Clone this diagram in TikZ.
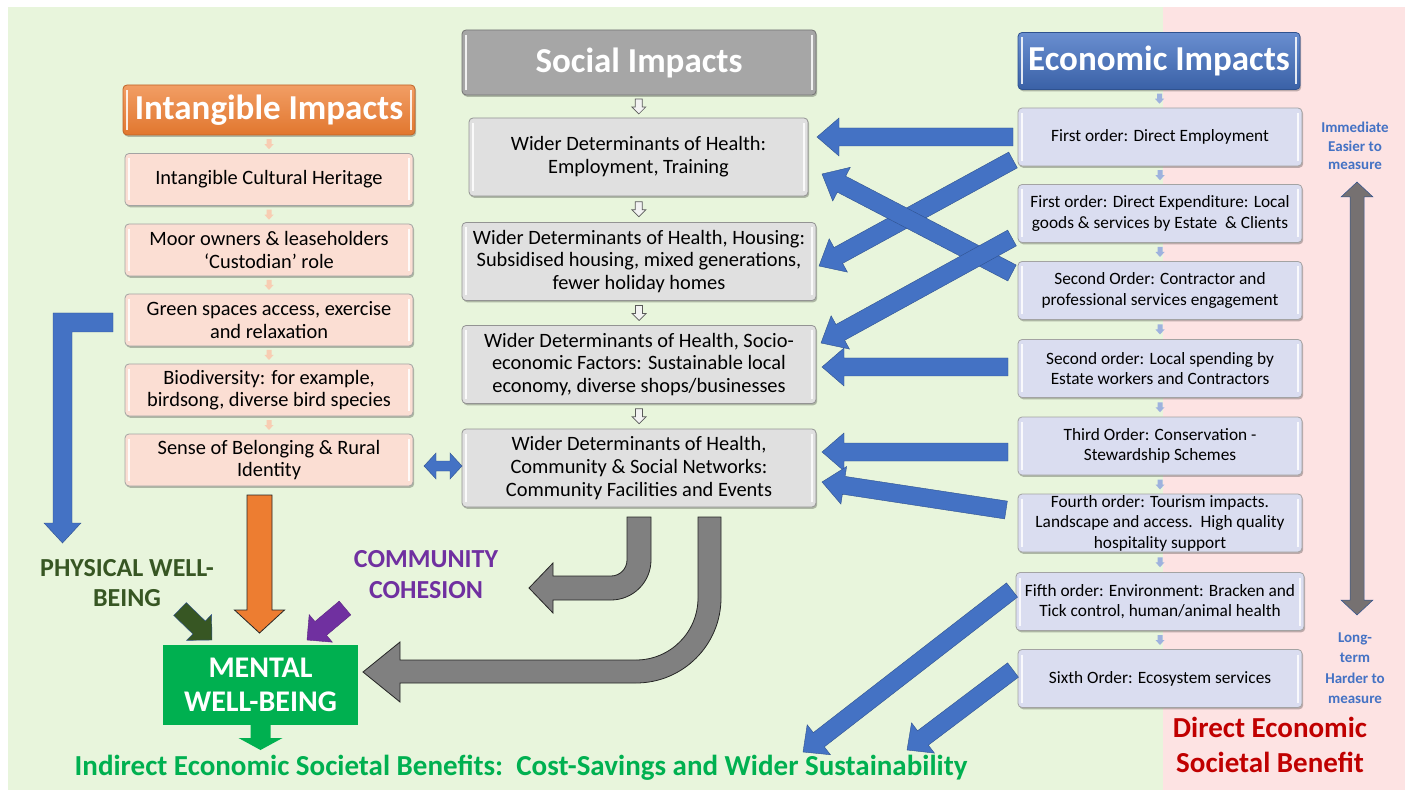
\documentclass[tikz,border=0pt]{standalone}
\usepackage{fontspec}
\setmainfont{Carlito}
\usetikzlibrary{calc,shadows}

\definecolor{bggreen}{HTML}{E8F5DC}
\definecolor{bgpink}{HTML}{FDE3E3}
\definecolor{arrblue}{HTML}{4472C4}
\definecolor{arrblueedge}{HTML}{2F528F}
\definecolor{pinkbox}{HTML}{FBDED3}
\definecolor{greybox}{HTML}{E0E0E0}
\definecolor{lavbox}{HTML}{DADDF0}
\definecolor{boxedge}{HTML}{A3A3A3}
\definecolor{mentalgreen}{HTML}{00B050}
\definecolor{darkgreen}{HTML}{375623}
\definecolor{purp}{HTML}{7030A0}
\definecolor{redtxt}{HTML}{C00000}
\definecolor{greyarrow}{HTML}{808080}
\definecolor{hdrgrey}{HTML}{A6A6A6}
\definecolor{orng}{HTML}{ED7D31}
\definecolor{scalegrey}{HTML}{767171}

% block arrow: [style]{tail}{tip}{half shaft}{half head}{head length}
\newcommand\blockarrow[6][]{%
  \coordinate (ba-a) at (#2);
  \coordinate (ba-b) at (#3);
  \coordinate (ba-h) at ($(ba-b)!#6!(ba-a)$);
  \filldraw[#1] ($(ba-a)!#4!90:(ba-b)$) -- ($(ba-h)!#4!90:(ba-b)$)
    -- ($(ba-h)!#5!90:(ba-b)$) -- (ba-b) -- ($(ba-h)!#5!-90:(ba-b)$)
    -- ($(ba-h)!#4!-90:(ba-b)$) -- ($(ba-a)!#4!-90:(ba-b)$) -- cycle;}

\tikzset{
  every node/.style={inner sep=0pt, outer sep=0pt},
  bevel/.style={path picture={
    \draw[white,opacity=.85,line width=2.2pt]
      ([shift={(4pt,-5pt)}]path picture bounding box.north west) --
      ([shift={(4pt,5pt)}]path picture bounding box.south west);
    \draw[white,opacity=.85,line width=2.2pt]
      ([shift={(-4pt,-5pt)}]path picture bounding box.north east) --
      ([shift={(-4pt,5pt)}]path picture bounding box.south east);}},
  softshadow/.style={drop shadow={shadow xshift=1.2pt,shadow yshift=-1.8pt,fill=black,opacity=.25}},
  basebox/.style={rounded corners=4pt, line width=0.8pt, align=center, bevel, softshadow},
  ibox/.style={basebox, draw=boxedge, fill=pinkbox, minimum width=288pt, minimum height=52pt,
    font=\fontsize{20.4}{22.5}\selectfont},
  sbox/.style={basebox, draw=boxedge!90!black, fill=greybox, minimum width=354pt, minimum height=78pt,
    font=\fontsize{20.4}{22.8}\selectfont},
  ebox/.style={basebox, draw=boxedge, fill=lavbox, minimum width=284pt, minimum height=58pt,
    font=\fontsize{17.3}{20.5}\selectfont},
  ihead/.style={basebox, draw=orng!80!black, top color=orng!75!white, bottom color=orng!95!black,
    minimum width=292pt, minimum height=50pt, text=white, font=\bfseries\fontsize{35}{38}\selectfont},
  shead/.style={basebox, draw=black!55, fill=hdrgrey, minimum width=354pt, minimum height=65pt,
    text=white, font=\bfseries\fontsize{35}{38}\selectfont},
  ehead/.style={basebox, draw=arrblueedge, top color=arrblue!80!white, bottom color=arrblue!85!black,
    minimum width=282pt, minimum height=57pt, text=white, font=\bfseries\fontsize{35}{38}\selectfont},
  bluearrow/.style={fill=arrblue, draw=arrblueedge, line width=0.4pt},
  tinypink/.style={fill=pinkbox!60!orng!70!white, draw=none},
  tinygrey/.style={fill=white!95!black, draw=black!65, line width=0.7pt},
  tinyblue/.style={fill=arrblue!40!lavbox, draw=none},
  greyblock/.style={fill=greyarrow, draw=black!85, line width=0.8pt},
}

\begin{document}
\begin{tikzpicture}[x=1pt,y=-1pt]
  \useasboundingbox (0,0) rectangle (1408,791);
  % panels
  \fill[bggreen] (8,7) rectangle (1163,790);
  \fill[bgpink] (1163,7) rectangle (1405,790);

  % intangible column
  \node[ihead] (ih) at (269,110) {Intangible Impacts};
  \node[ibox] (i1) at (269,179.5) {Intangible Cultural Heritage};
  \node[ibox] (i2) at (269,250) {Moor owners \& leaseholders\\‘Custodian’ role};
  \node[ibox] (i3) at (269,320) {Green spaces access, exercise\\and relaxation};
  \node[ibox] (i4) at (269,390) {Biodiversity: for example,\\birdsong, diverse bird species};
  \node[ibox] (i5) at (269,460) {Sense of Belonging \& Rural\\Identity};

  % social column
  \node[shead] (sh) at (639,62.5) {Social Impacts};
  \node[sbox, minimum width=339pt] (s1) at (638.5,157) {Wider Determinants of Health:\\Employment, Training};
  \node[sbox] (s2) at (639,261.5) {Wider Determinants of Health, Housing:\\Subsidised housing, mixed generations,\\fewer holiday homes};
  \node[sbox] (s3) at (639,364.5) {Wider Determinants of Health, Socio-\\economic Factors: Sustainable local\\economy, diverse shops/businesses};
  \node[sbox] (s4) at (639,468) {Wider Determinants of Health,\\Community \& Social Networks:\\Community Facilities and Events};

  % economic column
  \node[ehead] (eh) at (1159,61) {Economic Impacts};
  \node[ebox] (e1) at (1160,137) {First order: Direct Employment};
  \node[ebox] (e2) at (1160,213.5) {First order: Direct Expenditure: Local\\goods \& services by Estate\ \ \& Clients};
  \node[ebox] (e3) at (1160,290.5) {Second Order: Contractor and\\professional services engagement};
  \node[ebox] (e4) at (1160,368.5) {Second order: Local spending by\\Estate workers and Contractors};
  \node[ebox] (e5) at (1160,446) {Third Order: Conservation -\\Stewardship Schemes};
  \node[ebox] (e6) at (1160,523) {Fourth order: Tourism impacts.\\Landscape and access.\ \ High quality\\hospitality support};
  \node[ebox, minimum width=288pt] (e7) at (1160,601.5) {Fifth order: Environment: Bracken and\\Tick control, human/animal health};
  \node[ebox] (e8) at (1160,678.5) {Sixth Order: Ecosystem services};

  % small step arrows inside the columns
  \foreach \a/\b in {ih/i1,i1/i2,i2/i3,i3/i4,i4/i5}{
    \coordinate (mid) at ($(\a.south)!.5!(\b.north)$);
    \blockarrow[tinypink]{$(mid)+(0,-5)$}{$(mid)+(0,5)$}{2.5pt}{4.5pt}{5pt}}
  \foreach \a/\b in {sh/s1,s1/s2,s2/s3,s3/s4}{
    \coordinate (mid) at ($(\a.south)!.5!(\b.north)$);
    \blockarrow[tinygrey]{$(mid)+(0,-7.5)$}{$(mid)+(0,7.5)$}{3.5pt}{7pt}{7pt}}
  \foreach \a/\b in {eh/e1,e1/e2,e2/e3,e3/e4,e4/e5,e5/e6,e6/e7,e7/e8}{
    \coordinate (mid) at ($(\a.south)!.5!(\b.north)$);
    \blockarrow[tinyblue]{$(mid)+(0,-5)$}{$(mid)+(0,5)$}{2.5pt}{4.5pt}{5pt}}

  % economic to social links
  \blockarrow[bluearrow]{$(e1.west)+(-5,0)$}{$(s1.east)+(9,-20)$}{9pt}{19pt}{22pt}
  \blockarrow[bluearrow]{$(e1.west)+(-5,23)$}{$(s2.east)+(3,4.5)$}{9pt}{19pt}{22pt}
  \blockarrow[bluearrow]{$(e3.west)+(-6,-17.5)$}{$(s1.east)+(14,17)$}{9pt}{19pt}{22pt}
  \blockarrow[bluearrow]{$(e2.west)+(-6,24.5)$}{$(s3.east)+(5,-21.5)$}{9pt}{19pt}{22pt}
  \blockarrow[bluearrow]{$(e4.west)+(-10,-1.5)$}{$(s3.east)+(6,2.5)$}{9pt}{19pt}{22pt}
  \blockarrow[bluearrow]{$(e5.west)+(-10,6)$}{$(s4.east)+(6,-16)$}{9pt}{19pt}{22pt}
  \blockarrow[bluearrow]{$(e6.west)+(-12,-13)$}{$(s4.east)+(6,14)$}{9pt}{19pt}{22pt}
  \coordinate (sus1) at (803,752);
  \coordinate (sus2) at (907,750);
  \blockarrow[bluearrow]{$(e7.west)+(-4,-11.5)$}{sus1}{9pt}{19pt}{20pt}
  \blockarrow[bluearrow]{$(e8.west)+(-5,-8.5)$}{sus2}{9pt}{19pt}{20pt}

  % time scale on the right
  \node[font=\bfseries\fontsize{15}{18.5}\selectfont, text=arrblue, align=center] (imm) at (1355,146) {Immediate\\Easier to\\measure};
  \node[font=\bfseries\fontsize{15}{20.5}\selectfont, text=arrblue, align=center] (ltm) at (1355,668) {Long-\\term\\Harder to\\measure};
  \coordinate (sct) at (1357,182);
  \coordinate (scb) at (1357,615);
  \filldraw[fill=scalegrey, draw=arrblueedge, line width=0.5pt]
    (sct) -- ($(sct)+(16,15)$) -- ($(sct)+(7,15)$) -- ($(scb)+(7,-15)$) -- ($(scb)+(16,-15)$)
    -- (scb) -- ($(scb)+(-16,-15)$) -- ($(scb)+(-7,-15)$) -- ($(sct)+(-7,15)$) -- ($(sct)+(-16,15)$) -- cycle;
  \node[font=\bfseries\fontsize{29}{35}\selectfont, text=redtxt, align=center] (deb) at (1270,745) {Direct Economic\\Societal Benefit};

  % physical well-being branch
  \coordinate (lt) at ($(i3.west)+(-12,2.5)$);
  \filldraw[bluearrow] (lt) -- ($(lt)+(0,-9.5)$) -- ($(lt)+(-60,-9.5)$) -- ($(lt)+(-60,200.5)$)
    -- ($(lt)+(-69,200.5)$) -- ($(lt)+(-50.5,220.5)$) -- ($(lt)+(-32,200.5)$) -- ($(lt)+(-41,200.5)$)
    -- ($(lt)+(-41,9.5)$) -- ($(lt)+(0,9.5)$) -- cycle;

  % belonging <-> community link
  \coordinate (dl) at ($(i5.east)+(11,6)$);
  \coordinate (dr) at ($(s4.west)+(0,-2)$);
  \filldraw[bluearrow] (dl) -- ($(dl)+(12,-13)$) -- ($(dl)+(12,-5)$) -- ($(dr)+(-12,-5)$) -- ($(dr)+(-12,-13)$)
    -- (dr) -- ($(dr)+(-12,13)$) -- ($(dr)+(-12,5)$) -- ($(dl)+(12,5)$) -- ($(dl)+(12,13)$) -- cycle;

  % mental well-being outcome
  \node[fill=mentalgreen, minimum width=195pt, minimum height=80pt, align=center, text=white,
        font=\bfseries\fontsize{30}{34}\selectfont] (mw) at (260.5,685) {MENTAL\\WELL-BEING};
  \node[font=\bfseries\fontsize{26}{30.5}\selectfont, text=darkgreen, align=center] (pw) at (127,583) {PHYSICAL WELL-\\BEING};
  \node[font=\bfseries\fontsize{26}{31}\selectfont, text=purp, align=center] (cc) at (426,574.5) {COMMUNITY\\COHESION};
  \node[font=\bfseries\fontsize{29}{32}\selectfont, text=mentalgreen] (ind) at (521,768) {Indirect Economic Societal Benefits:\ \ Cost-Savings and Wider Sustainability};

  \blockarrow[fill=orng, draw=black!85, line width=0.8pt]{$(i5.south)+(-9.5,9)$}{$(mw.north)+(-1,-12)$}{12.5pt}{25pt}{23pt}
  \coordinate (pwt) at (180,609);
  \coordinate (cct) at (345,608);
  \blockarrow[fill=darkgreen, draw=arrblueedge, line width=0.4pt]{pwt}{$(mw.north west)+(49,-5)$}{9pt}{18pt}{18pt}
  \blockarrow[fill=purp, draw=purp!80!black, line width=0.4pt]{cct}{$(mw.north east)+(-51,-5)$}{9pt}{18pt}{18pt}
  \blockarrow[fill=mentalgreen, draw=none]{mw.south}{$(mw.south)+(0,25)$}{10pt}{22pt}{12pt}

  % community cohesion and mental well-being returns from the social column
  \begin{scope}[shift={(s4.south)}]
    \filldraw[greyblock] (12,10) -- (12,53) arc[start angle=0,end angle=-90,radius=40pt]
      -- (-86,93) -- (-86,106) -- (-110,81) -- (-86,56) -- (-86,69) -- (-28,69)
      arc[start angle=-90,end angle=0,radius=16pt] -- (-12,10) -- cycle;
    \filldraw[greyblock] (82,10) -- (82,91) arc[start angle=0,end angle=-90,radius=85pt]
      -- (-239,176) -- (-239,195) -- (-276,165) -- (-239,135) -- (-239,153) -- (-3,153)
      arc[start angle=-90,end angle=0,radius=62pt] -- (59,10) -- cycle;
  \end{scope}
\end{tikzpicture}
\end{document}
